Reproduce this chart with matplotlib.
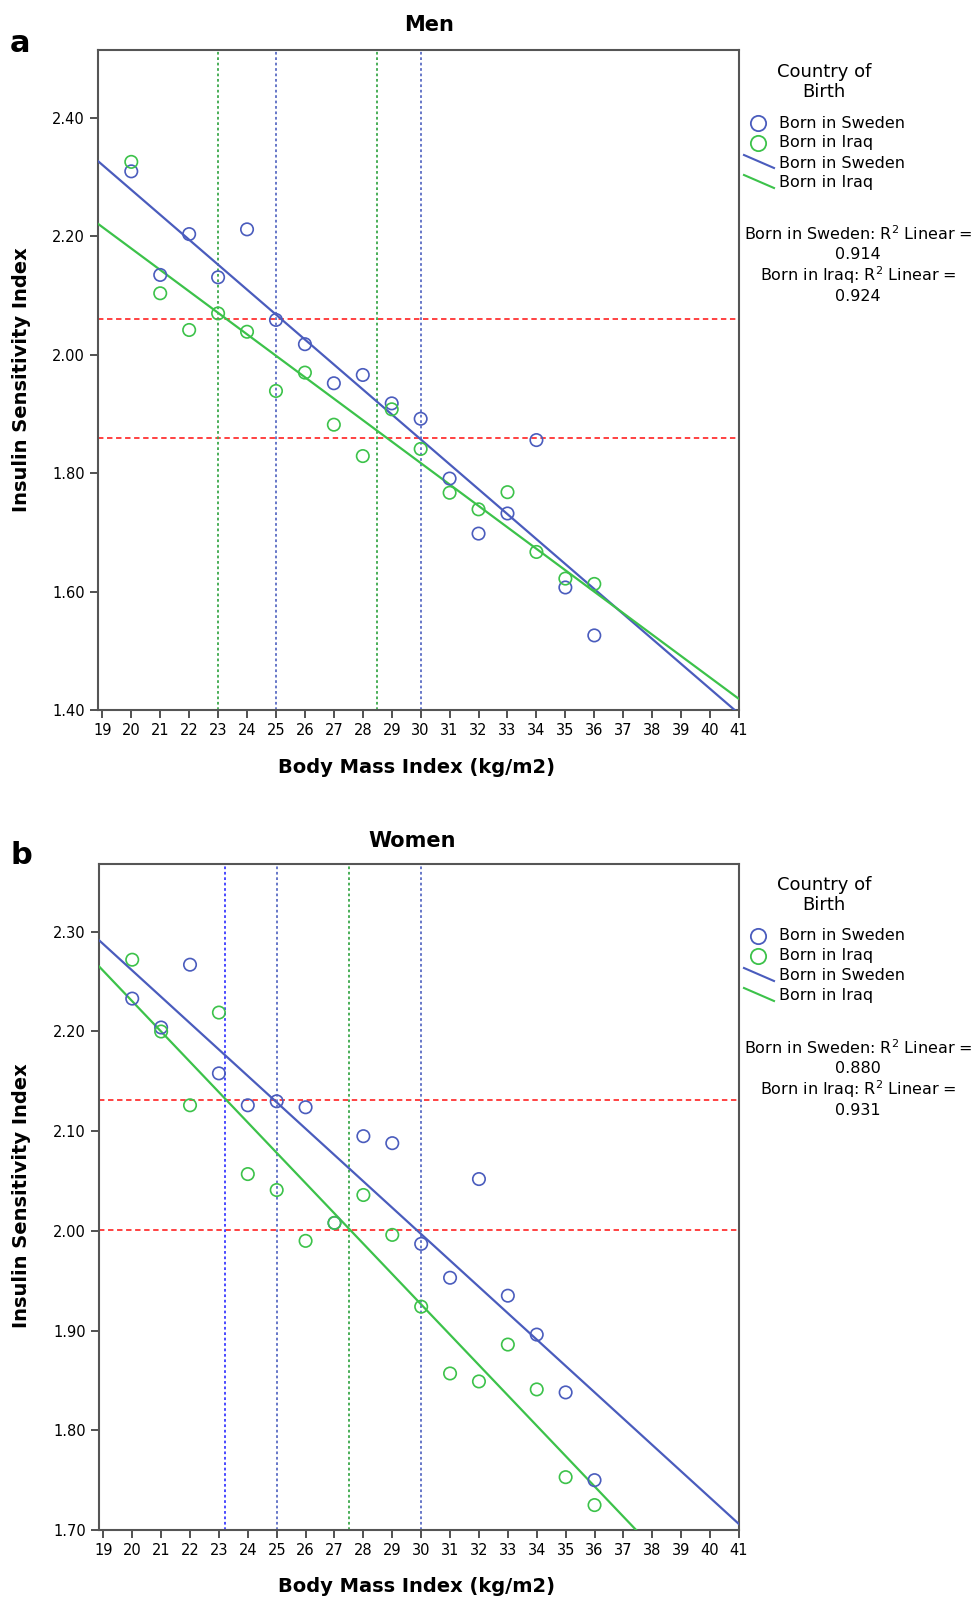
import numpy as np
import matplotlib.pyplot as plt
from matplotlib.lines import Line2D

# BMI categories (same for both panels)
bmi = np.arange(20, 37)

# Men
men_sweden = [2.31, 2.135, 2.204, 2.131, 2.212, 2.059, 2.018, 1.952, 1.966, 1.918,
              1.892, 1.791, 1.698, 1.732, 1.856, 1.607, 1.526]
men_iraq = [2.326, 2.104, 2.042, 2.070, 2.039, 1.939, 1.970, 1.882, 1.829, 1.908,
            1.841, 1.767, 1.739, 1.768, 1.667, 1.622, 1.613]
men_hlines = [2.061, 1.860]
men_vlines = [(23, "green"), (25, "blue"), (28.5, "green"), (30, "blue")]
men_r2 = ["0.914", "0.924"]

# Women
women_sweden = [2.233, 2.204, 2.267, 2.158, 2.126, 2.130, 2.124, 2.008, 2.095, 2.088,
                1.987, 1.953, 2.052, 1.935, 1.896, 1.838, 1.750]
women_iraq = [2.272, 2.200, 2.126, 2.219, 2.057, 2.041, 1.990, 2.008, 2.036, 1.996,
              1.924, 1.857, 1.849, 1.886, 1.841, 1.753, 1.725]
women_hlines = [2.131, 2.001]
women_vlines = [(23.2, "bright"), (25, "blue"), (27.5, "green"), (30, "blue")]
women_r2 = ["0.880", "0.931"]

BLUE = "#4a5cbd"
GREEN = "#3cc24a"
RED = "#ff3333"
vcol = {"blue": "#5a6cc4", "green": "#3aa84a", "bright": "#3a3aff"}

W, H = 976, 1603
fig = plt.figure(figsize=(W / 100, H / 100), dpi=100)


def fx(px):
    return px / W


def fy(py):
    return 1 - py / H


def panel(rect, sweden, iraq, ylim, yticks, hlines, vlines):
    ax = fig.add_axes(rect)
    ax.set_xlim(18.85, 41)
    ax.set_ylim(*ylim)
    xx = np.array([18.85, 41])
    for y, c in [(sweden, BLUE), (iraq, GREEN)]:
        m, b = np.polyfit(bmi, y, 1)
        ax.plot(xx, m * xx + b, color=c, lw=1.6, zorder=3)
    for h in hlines:
        ax.axhline(h, color=RED, lw=1.3, ls=(0, (3, 2)), zorder=2)
    for v, c in vlines:
        ax.axvline(v, color=vcol[c], lw=1.3, ls=(0, (1.5, 1.5)), zorder=2)
    ax.scatter(bmi, sweden, s=80, facecolors="none", edgecolors=BLUE, lw=1.2, zorder=4)
    ax.scatter(bmi, iraq, s=80, facecolors="none", edgecolors=GREEN, lw=1.2, zorder=4)
    ax.set_xticks(range(19, 42))
    ax.set_yticks(yticks)
    ax.set_yticklabels([f"{t:.2f}" for t in yticks])
    ax.tick_params(direction="out", length=6, width=1.2, labelsize=10.5, color="#333333")
    for s in ax.spines.values():
        s.set_color("#555555")
        s.set_linewidth(1.5)
    return ax


def legend(top, r2top, r2vals):
    fig.text(fx(824), fy(top), "Country of", ha="center", va="center", fontsize=13)
    fig.text(fx(824), fy(top + 20), "Birth", ha="center", va="center", fontsize=13)
    rows = [top + 51, top + 71, top + 91, top + 111]
    labels = ["Born in Sweden", "Born in Iraq", "Born in Sweden", "Born in Iraq"]
    for i, (r, lab) in enumerate(zip(rows, labels)):
        c = BLUE if i % 2 == 0 else GREEN
        if i < 2:
            fig.add_artist(Line2D([fx(758)], [fy(r)], marker="o", ms=11, mfc="none",
                                  mec=c, mew=1.3, transform=fig.transFigure))
        else:
            fig.add_artist(Line2D([fx(744), fx(774)], [fy(r - 8), fy(r + 5)], color=c,
                                  lw=1.5, transform=fig.transFigure))
        fig.text(fx(779), fy(r), lab, ha="left", va="center", fontsize=11.5)
    lines = ["Born in Sweden: R$^2$ Linear =", r2vals[0],
             "Born in Iraq: R$^2$ Linear =", r2vals[1]]
    for k, t in enumerate(lines):
        fig.text(fx(858), fy(r2top + 20.7 * k), t, ha="center", va="center", fontsize=11.5)


# panel a
panel([fx(98), fy(710), fx(739 - 98), (710 - 50) / H], men_sweden, men_iraq,
      (1.40, 2.515), [1.40, 1.60, 1.80, 2.00, 2.20, 2.40], men_hlines, men_vlines)
fig.text(fx(429), fy(25), "Men", ha="center", va="center", fontsize=15, fontweight="bold")
fig.text(fx(20), fy(43), "a", ha="center", va="center", fontsize=22, fontweight="bold")
fig.text(fx(22), fy(380), "Insulin Sensitivity Index", rotation=90, ha="center", va="center",
         fontsize=14, fontweight="bold")
fig.text(fx(417), fy(768), "Body Mass Index (kg/m2)", ha="center", va="center",
         fontsize=14, fontweight="bold")
legend(72, 234, men_r2)

# panel b
panel([fx(99), fy(1530), fx(739 - 99), (1530 - 864) / H], women_sweden, women_iraq,
      (1.70, 2.368), [1.70, 1.80, 1.90, 2.00, 2.10, 2.20, 2.30], women_hlines, women_vlines)
fig.text(fx(412), fy(841), "Women", ha="center", va="center", fontsize=15, fontweight="bold")
fig.text(fx(21), fy(855), "b", ha="center", va="center", fontsize=22, fontweight="bold")
fig.text(fx(22), fy(1196), "Insulin Sensitivity Index", rotation=90, ha="center", va="center",
         fontsize=14, fontweight="bold")
fig.text(fx(417), fy(1586), "Body Mass Index (kg/m2)", ha="center", va="center",
         fontsize=14, fontweight="bold")
legend(885, 1048, women_r2)

fig.savefig("out.png", dpi=100)
